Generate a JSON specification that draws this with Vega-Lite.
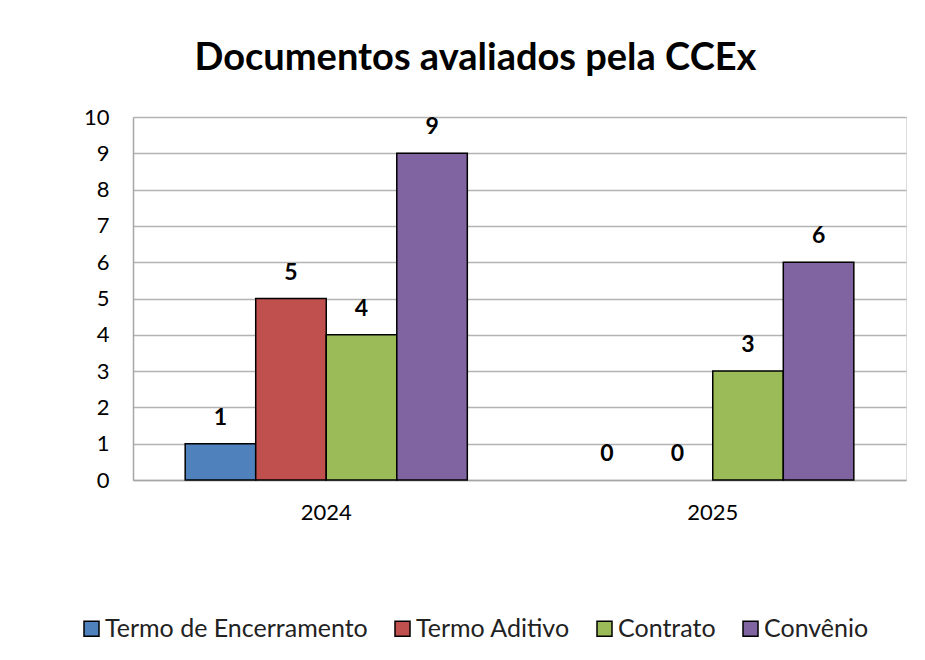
{
  "$schema": "https://vega.github.io/schema/vega-lite/v6.json",
  "width": 773,
  "height": 363,
  "autosize": {"type": "none"},
  "padding": {"left": 133, "top": 117, "right": 19, "bottom": 180},
  "background": "white",
  "title": {
    "text": "Documentos avaliados pela CCEx",
    "font": "Lato",
    "fontSize": 38,
    "fontWeight": "bold",
    "color": "#000000",
    "anchor": "middle",
    "frame": "group",
    "dx": -44,
    "offset": 28
  },
  "data": {
    "values": [
      {"ano": "2024", "tipo": "Termo de Encerramento", "qtd": 1},
      {"ano": "2024", "tipo": "Termo Aditivo", "qtd": 5},
      {"ano": "2024", "tipo": "Contrato", "qtd": 4},
      {"ano": "2024", "tipo": "Convênio", "qtd": 9},
      {"ano": "2025", "tipo": "Termo de Encerramento", "qtd": 0},
      {"ano": "2025", "tipo": "Termo Aditivo", "qtd": 0},
      {"ano": "2025", "tipo": "Contrato", "qtd": 3},
      {"ano": "2025", "tipo": "Convênio", "qtd": 6}
    ]
  },
  "encoding": {
    "x": {
      "field": "ano",
      "type": "nominal",
      "title": null,
      "scale": {"paddingInner": 0.27, "paddingOuter": 0.135},
      "axis": {
        "labelAngle": 0,
        "labelFont": "Lato",
        "labelFontSize": 22,
        "labelColor": "#000000",
        "labelPadding": 22,
        "ticks": false,
        "domainColor": "#a6a6a6",
        "domainWidth": 1.5,
        "grid": false
      }
    },
    "xOffset": {
      "field": "tipo",
      "type": "nominal",
      "sort": ["Termo de Encerramento", "Termo Aditivo", "Contrato", "Convênio"],
      "scale": {"paddingInner": 0, "paddingOuter": 0}
    },
    "y": {
      "field": "qtd",
      "type": "quantitative",
      "title": null,
      "scale": {"domain": [0, 10], "nice": false},
      "axis": {
        "values": [0, 1, 2, 3, 4, 5, 6, 7, 8, 9, 10],
        "labelFont": "Lato",
        "labelFontSize": 22,
        "labelColor": "#000000",
        "labelPadding": 24,
        "ticks": false,
        "domainColor": "#a6a6a6",
        "domainWidth": 1.5,
        "gridColor": "#b3b3b3",
        "gridWidth": 1.5
      }
    }
  },
  "layer": [
    {
      "transform": [{"filter": "datum.qtd > 0"}],
      "mark": {"type": "bar", "stroke": "#000000", "strokeWidth": 1.5},
      "encoding": {
        "color": {
          "field": "tipo",
          "type": "nominal",
          "sort": ["Termo de Encerramento", "Termo Aditivo", "Contrato", "Convênio"],
          "scale": {
            "domain": ["Termo de Encerramento", "Termo Aditivo", "Contrato", "Convênio"],
            "range": ["#4F81BD", "#C0504D", "#9BBB59", "#8064A2"]
          },
          "legend": {
            "title": null,
            "orient": "none",
            "direction": "horizontal",
            "legendX": -54,
            "legendY": 499,
            "symbolType": "square",
            "symbolSize": 225,
            "symbolStrokeColor": "#000000",
            "symbolStrokeWidth": 1.5,
            "labelFont": "Lato",
            "labelFontSize": 25,
            "labelColor": "#222222",
            "labelOffset": 1,
            "columnPadding": 22,
            "labelLimit": 400
          }
        }
      }
    },
    {
      "mark": {
        "type": "text",
        "baseline": "alphabetic",
        "dy": -19,
        "font": "Lato",
        "fontSize": 23,
        "fontWeight": "bold",
        "color": "#000000"
      },
      "encoding": {
        "text": {"field": "qtd", "type": "quantitative"}
      }
    }
  ]
}
